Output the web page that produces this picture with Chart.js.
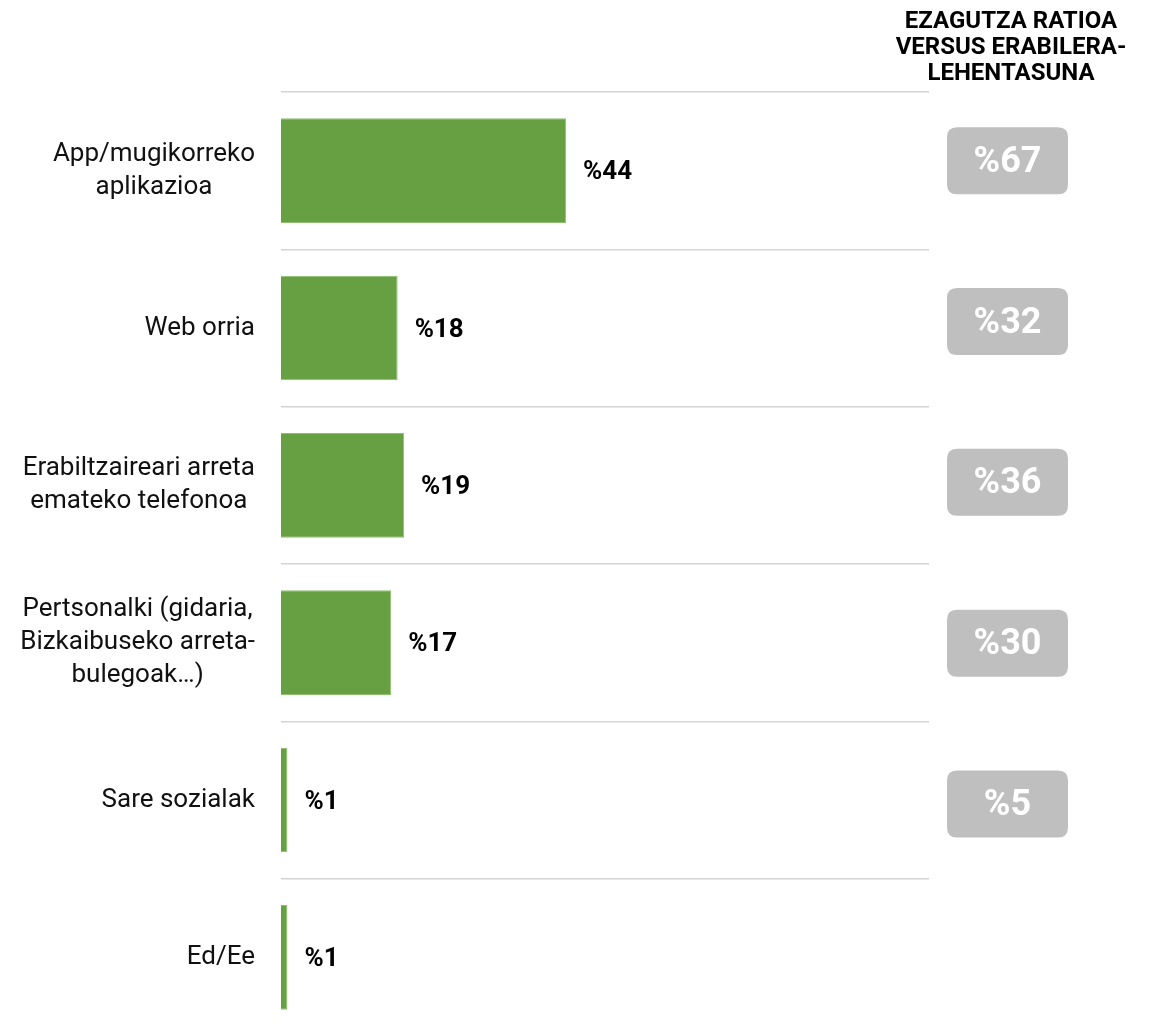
<!DOCTYPE html>
<html>
<head>
    <meta charset="UTF-8">
    <title>Erabilera-lehentasuna</title>
    <script src="https://cdn.jsdelivr.net/npm/chart.js"></script>
    <style>
       html, body {
           margin: 0;
           padding: 0;
           background: #fff;
           overflow: hidden;
       }
       .wrap {
           width: 1152px;
           height: 1033px;
           overflow: hidden;
       }
   </style>
</head>
<body>
   <div class="wrap">
       <canvas id="usageChart" width="1152" height="1040"></canvas>
   </div>

    <script>
    // data
    const categories = [
        ['App/mugikorreko', 'aplikazioa'],
        ['Web orria'],
        ['Erabiltzaireari arreta', 'emateko telefonoa'],
        ['Pertsonalki (gidaria,', 'Bizkaibuseko arreta-', 'bulegoak…)'],
        ['Sare sozialak'],
        ['Ed/Ee']
    ];
    const usageValues = [44, 18, 19, 17, 1, 1];
    const ratioValues = [67, 32, 36, 30, 5, null];
    const ratioTitle = ['EZAGUTZA RATIOA', 'VERSUS ERABILERA-', 'LEHENTASUNA'];

    const FONT = 'Roboto, "DejaVu Sans", sans-serif';

    function roundRect(ctx, x, y, w, h, r) {
        ctx.beginPath();
        ctx.moveTo(x + r, y);
        ctx.lineTo(x + w - r, y);
        ctx.quadraticCurveTo(x + w, y, x + w, y + r);
        ctx.lineTo(x + w, y + h - r);
        ctx.quadraticCurveTo(x + w, y + h, x + w - r, y + h);
        ctx.lineTo(x + r, y + h);
        ctx.quadraticCurveTo(x, y + h, x, y + h - r);
        ctx.lineTo(x, y + r);
        ctx.quadraticCurveTo(x, y, x + r, y);
        ctx.closePath();
    }

    const extras = {
        id: 'extras',
        afterDraw(chart) {
            const ctx = chart.ctx;
            const y = chart.scales.y;
            const x = chart.scales.x;
            ctx.save();

            // category labels: block right-aligned, lines centred
            ctx.font = '26px ' + FONT;
            ctx.fillStyle = '#111';
            ctx.textBaseline = 'middle';
            ctx.textAlign = 'center';
            const lineH = 33;
            categories.forEach((lines, i) => {
                const w = Math.max(...lines.map(l => ctx.measureText(l).width));
                const cx = chart.chartArea.left - 26 - w / 2;
                const cy = y.getPixelForValue(i);
                lines.forEach((l, k) => {
                    ctx.fillText(l, cx, cy + (k - (lines.length - 1) / 2) * lineH);
                });
            });

            // value labels next to bars
            ctx.font = 'bold 26px ' + FONT;
            ctx.textAlign = 'left';
            ctx.fillStyle = '#000';
            usageValues.forEach((v, i) => {
                ctx.fillText('%' + v, x.getPixelForValue(v) + 17, y.getPixelForValue(i) + 2);
            });

            // ratio boxes (column is spaced a little wider than the bar rows)
            ratioValues.forEach((v, i) => {
                if (v === null) return;
                const cy = y.getPixelForValue(i) - 10 + i * 3.5;
                ctx.fillStyle = '#bfbfbf';
                roundRect(ctx, 947, cy - 33.5, 121, 67, 10);
                ctx.fill();
                ctx.fillStyle = '#fff';
                ctx.font = 'bold 36px ' + FONT;
                ctx.textAlign = 'center';
                ctx.fillText('%' + v, 1007.5, cy + 2);
            });

            // header of the right column
            ctx.fillStyle = '#000';
            ctx.font = 'bold 24px ' + FONT;
            ctx.textAlign = 'center';
            ratioTitle.forEach((t, k) => {
                ctx.fillText(t, 1011, 22 + k * 26);
            });
            ctx.restore();
        }
    };

    new Chart('usageChart', {
        type: 'bar',
        data: {
            labels: categories,
            datasets: [{
                data: usageValues,
                backgroundColor: '#67a042',
                borderColor: '#8fc06e',
                borderWidth: 1,
                barPercentage: 0.665,
                categoryPercentage: 1
            }]
        },
        options: {
            indexAxis: 'y',
            responsive: false,
            animation: false,
            layout: {
                padding: { left: 281, right: 223, top: 92, bottom: 4 }
            },
            plugins: {
                legend: { display: false },
                tooltip: { enabled: false }
            },
            scales: {
                x: {
                    display: false,
                    min: 0,
                    max: 100
                },
                y: {
                    ticks: { display: false },
                    border: { display: false },
                    grid: {
                        color: '#d4d4d4',
                        lineWidth: 1.5,
                        drawTicks: false,
                        offset: true
                    }
                }
            }
        },
        plugins: [extras]
    });
    </script>
</body>
</html>
